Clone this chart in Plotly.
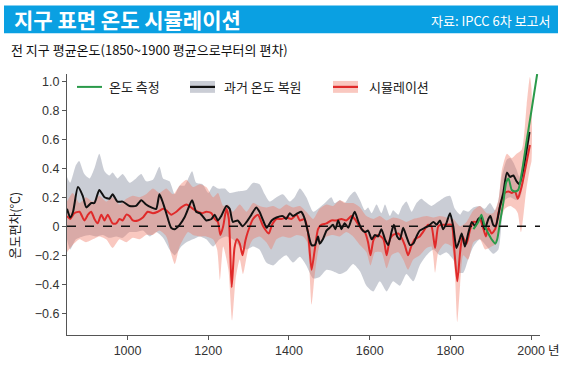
import plotly.graph_objects as go

# ---------------- data ----------------
recon_years = [850, 858, 865, 877, 889, 898, 910, 918, 930, 943, 955, 963, 975, 988, 1005, 1021, 1034, 1046, 1059, 1071,
               1079, 1088, 1096, 1108, 1117, 1129, 1141, 1150, 1160, 1170, 1179, 1186, 1195, 1208, 1216, 1224, 1232, 1245,
               1253, 1261, 1273, 1285, 1295, 1307, 1319, 1327, 1336, 1345, 1357, 1369, 1385, 1393, 1402, 1410, 1422, 1430,
               1438, 1447, 1456, 1464, 1472, 1476, 1484, 1493, 1501, 1509, 1515, 1522, 1530, 1538, 1547, 1555, 1563, 1572,
               1580, 1588, 1596, 1605, 1613, 1621, 1629, 1638, 1646, 1654, 1660, 1668, 1675, 1683, 1691, 1700, 1708, 1716,
               1724, 1737, 1745, 1758, 1766, 1774, 1782, 1790, 1799, 1807, 1815, 1822, 1828, 1836, 1844, 1853, 1861, 1869,
               1877, 1885, 1894, 1899, 1906, 1912, 1923, 1931, 1940, 1948, 1956, 1964, 1971, 1996]
recon_mean = [0.12, 0.06, 0.10, 0.27, 0.21, 0.13, 0.16, 0.16, 0.25, 0.20, 0.19, 0.22, 0.17, 0.17, 0.14, 0.14, 0.18, 0.15, 0.13, 0.12,
              0.22, 0.16, 0.09, -0.01, -0.02, 0.01, 0.06, 0.12, 0.18, 0.10, 0.09, 0.07, 0.04, 0.05, 0.08, 0.04, 0.07, 0.14,
              0.12, 0.03, 0.04, 0.00, 0.03, 0.08, 0.13, 0.10, 0.04, -0.01, 0.04, 0.06, 0.07, 0.05, 0.09, 0.07, 0.09, 0.10,
              0.06, -0.04, -0.13, -0.13, -0.07, -0.12, -0.09, -0.03, -0.01, 0.01, -0.02, 0.04, -0.02, 0.02, -0.01, 0.05, 0.10, 0.03,
              -0.02, -0.04, -0.03, -0.09, -0.06, -0.07, -0.02, -0.09, -0.13, -0.04, 0.01, -0.07, -0.09, -0.01, -0.07, -0.13, -0.12, -0.07,
              -0.03, -0.01, 0.00, 0.03, 0.01, 0.04, -0.02, 0.02, 0.09, 0.00, -0.15, -0.10, -0.05, -0.14, -0.05, 0.03, 0.00, 0.05,
              0.06, -0.02, 0.05, 0.07, 0.01, 0.00, 0.14, 0.23, 0.37, 0.34, 0.35, 0.31, 0.29, 0.65]

recon_up_years = [850, 858, 872, 880, 893, 906, 918, 930, 943, 955, 963, 975, 988, 1005, 1021, 1034, 1046, 1063, 1079, 1088,
                  1104, 1117, 1129, 1141, 1160, 1170, 1186, 1200, 1212, 1224, 1241, 1253, 1273, 1295, 1311, 1327, 1340, 1352,
                  1369, 1385, 1402, 1414, 1427, 1443, 1460, 1476, 1489, 1505, 1513, 1526, 1538, 1551, 1563, 1576, 1588, 1596,
                  1605, 1617, 1629, 1638, 1650, 1658, 1671, 1679, 1691, 1704, 1716, 1728, 1737, 1753, 1770, 1786, 1799, 1811,
                  1824, 1832, 1844, 1857, 1873, 1885, 1898, 1911, 1919, 1927, 1940, 1948, 1956, 1964, 1971, 1996]
recon_upper = [0.34, 0.30, 0.42, 0.45, 0.36, 0.33, 0.40, 0.50, 0.38, 0.35, 0.37, 0.33, 0.36, 0.30, 0.33, 0.36, 0.31, 0.32, 0.41, 0.33,
               0.31, 0.22, 0.28, 0.28, 0.38, 0.30, 0.29, 0.23, 0.28, 0.26, 0.26, 0.23, 0.24, 0.25, 0.30, 0.29, 0.22, 0.17,
               0.20, 0.22, 0.17, 0.20, 0.26, 0.20, 0.10, 0.13, 0.16, 0.20, 0.16, 0.18, 0.16, 0.21, 0.24, 0.18, 0.11, 0.13,
               0.09, 0.15, 0.09, 0.15, 0.07, 0.11, 0.08, 0.13, 0.17, 0.10, 0.16, 0.19, 0.17, 0.14, 0.17, 0.20, 0.21, 0.12,
               0.08, 0.11, 0.10, 0.13, 0.14, 0.12, 0.16, 0.11, 0.18, 0.34, 0.46, 0.47, 0.44, 0.39, 0.34, 0.70]

recon_lo_years = [850, 858, 872, 889, 906, 922, 939, 955, 972, 988, 1005, 1021, 1038, 1055, 1071, 1088, 1104, 1117, 1133, 1146,
                  1162, 1179, 1195, 1212, 1228, 1245, 1261, 1278, 1295, 1311, 1327, 1344, 1361, 1377, 1393, 1410, 1427, 1443,
                  1460, 1476, 1493, 1509, 1526, 1542, 1559, 1576, 1592, 1609, 1625, 1642, 1658, 1675, 1691, 1708, 1724, 1741,
                  1758, 1774, 1790, 1807, 1819, 1832, 1844, 1857, 1873, 1890, 1906, 1919, 1927, 1935, 1948, 1964, 1973, 1996]
recon_lower = [-0.09, -0.16, -0.09, -0.07, -0.06, -0.07, -0.06, -0.08, -0.07, -0.08, -0.04, -0.04, -0.03, -0.07, -0.04, -0.08, -0.16, -0.20, -0.14, -0.11,
               -0.09, -0.07, -0.09, -0.14, -0.09, -0.07, -0.09, -0.14, -0.16, -0.14, -0.16, -0.25, -0.27, -0.23, -0.20, -0.25, -0.21, -0.27,
               -0.36, -0.35, -0.30, -0.31, -0.33, -0.31, -0.26, -0.31, -0.41, -0.45, -0.38, -0.45, -0.38, -0.41, -0.33, -0.38, -0.27, -0.20,
               -0.16, -0.20, -0.18, -0.23, -0.32, -0.32, -0.23, -0.14, -0.09, -0.14, -0.19, -0.16, 0.03, 0.18, 0.20, 0.18, 0.20, 0.60]

sim_years = [850, 858, 868, 881, 893, 902, 910, 918, 926, 935, 943, 951, 963, 972, 980, 988, 997, 1005, 1013, 1026,
             1038, 1050, 1063, 1075, 1088, 1096, 1108, 1121, 1133, 1146, 1162, 1174, 1186, 1195, 1208, 1216, 1224, 1230,
             1237, 1245, 1251, 1258, 1265, 1271, 1278, 1285, 1292, 1298, 1311, 1323, 1336, 1350, 1358, 1369, 1381, 1394,
             1406, 1419, 1427, 1439, 1447, 1456, 1464, 1472, 1480, 1493, 1505, 1518, 1530, 1542, 1555, 1563, 1572, 1580,
             1588, 1596, 1602, 1610, 1621, 1634, 1642, 1650, 1658, 1671, 1679, 1687, 1695, 1704, 1712, 1724, 1732, 1745,
             1753, 1762, 1770, 1778, 1790, 1803, 1809, 1817, 1824, 1830, 1840, 1849, 1857, 1865, 1873, 1882, 1888, 1894,
             1902, 1911, 1919, 1927, 1935, 1944, 1952, 1960, 1967, 1977, 1988, 1997]
sim_mean = [0.07, 0.05, 0.09, 0.10, 0.04, 0.08, 0.10, 0.05, 0.02, 0.08, 0.04, 0.08, 0.02, 0.02, 0.05, 0.04, 0.08, 0.07, 0.04, 0.04,
            0.06, 0.10, 0.09, 0.10, 0.12, 0.11, 0.08, 0.10, 0.13, 0.15, 0.12, 0.10, 0.09, 0.10, 0.09, 0.05, 0.03, -0.06,
            0.00, 0.12, 0.05, -0.42, -0.15, -0.09, -0.12, -0.20, -0.10, -0.04, 0.05, 0.08, 0.00, -0.05, 0.01, 0.05, 0.05, 0.06,
            0.05, 0.08, 0.04, 0.05, -0.04, -0.30, -0.16, -0.02, 0.01, 0.02, 0.04, 0.04, 0.05, 0.04, 0.07, 0.05, 0.01, -0.02,
            -0.04, -0.11, -0.20, -0.09, -0.06, -0.09, -0.20, -0.09, -0.06, -0.05, -0.08, -0.13, -0.20, -0.13, -0.09, -0.07, -0.04, 0.01,
            0.00, -0.15, 0.00, 0.01, 0.01, 0.01, -0.14, -0.38, -0.18, -0.07, -0.12, -0.02, 0.03, 0.03, 0.05, -0.02, -0.07, -0.01,
            -0.05, -0.02, 0.09, 0.18, 0.23, 0.24, 0.23, 0.24, 0.19, 0.28, 0.43, 0.56]

sim_up_years = [850, 864, 881, 897, 914, 930, 947, 963, 980, 997, 1013, 1030, 1046, 1063, 1079, 1096, 1113, 1129, 1146, 1162,
                1179, 1195, 1212, 1224, 1237, 1249, 1261, 1278, 1295, 1311, 1327, 1344, 1361, 1377, 1393, 1410, 1427, 1443,
                1460, 1476, 1493, 1509, 1526, 1542, 1559, 1576, 1592, 1609, 1625, 1642, 1658, 1675, 1691, 1708, 1724, 1741,
                1758, 1774, 1790, 1807, 1824, 1840, 1857, 1873, 1890, 1906, 1919, 1927, 1940, 1952, 1964, 1977, 1989, 1997, 2001]
sim_upper = [0.17, 0.23, 0.16, 0.20, 0.17, 0.21, 0.17, 0.20, 0.15, 0.19, 0.21, 0.20, 0.22, 0.26, 0.23, 0.26, 0.22, 0.28, 0.32, 0.27,
             0.29, 0.27, 0.20, 0.23, 0.14, 0.15, 0.10, 0.15, 0.10, 0.16, 0.14, 0.13, 0.14, 0.12, 0.15, 0.13, 0.14, 0.10,
             0.05, 0.12, 0.15, 0.14, 0.18, 0.16, 0.16, 0.13, 0.07, 0.05, 0.07, 0.04, 0.06, 0.05, 0.03, 0.05, 0.06, 0.07,
             0.06, 0.07, 0.06, 0.05, 0.00, 0.03, 0.11, 0.14, 0.09, 0.09, 0.18, 0.38, 0.50, 0.47, 0.50, 0.53, 0.84, 1.03, 0.95]

sim_lo_years = [850, 864, 881, 897, 914, 930, 947, 963, 980, 997, 1013, 1030, 1046, 1063, 1079, 1096, 1108, 1117, 1129, 1150,
                1162, 1179, 1195, 1212, 1222, 1229, 1237, 1250, 1259, 1268, 1278, 1286, 1299, 1311, 1327, 1344, 1356, 1369,
                1385, 1402, 1419, 1435, 1445, 1456, 1464, 1476, 1493, 1509, 1526, 1542, 1559, 1576, 1592, 1602, 1613, 1629,
                1642, 1654, 1671, 1683, 1695, 1708, 1724, 1741, 1753, 1762, 1770, 1786, 1803, 1811, 1817, 1824, 1832, 1844,
                1857, 1873, 1886, 1902, 1912, 1923, 1935, 1948, 1960, 1967, 1975, 1988, 1997, 2001]
sim_lower = [-0.18, -0.13, -0.09, -0.11, -0.09, -0.07, -0.09, -0.15, -0.09, -0.11, -0.08, -0.09, -0.06, -0.06, -0.03, -0.07, -0.19, -0.26, -0.14, -0.04,
             -0.06, -0.07, -0.07, -0.09, -0.16, -0.37, -0.14, -0.30, -0.65, -0.36, -0.23, -0.33, -0.16, -0.09, -0.07, -0.11, -0.16, -0.09,
             -0.07, -0.08, -0.06, -0.07, -0.11, -0.54, -0.33, -0.13, -0.07, -0.06, -0.07, -0.04, -0.07, -0.13, -0.18, -0.27, -0.18, -0.18,
             -0.29, -0.20, -0.18, -0.23, -0.30, -0.23, -0.20, -0.15, -0.14, -0.32, -0.18, -0.12, -0.14, -0.32, -0.66, -0.41, -0.20, -0.23,
             -0.11, -0.09, -0.16, -0.14, -0.12, 0.03, 0.12, 0.14, 0.12, 0.09, -0.04, 0.25, 0.40, 0.45]

obs_years = [1857, 1869, 1877, 1885, 1894, 1902, 1911, 1916, 1923, 1931, 1938, 1944, 1952, 1960, 1968, 1977, 1989, 2001, 2015]
obs_mean = [-0.02, 0.03, 0.08, 0.00, -0.05, -0.09, -0.12, -0.09, 0.03, 0.16, 0.30, 0.33, 0.25, 0.24, 0.25, 0.37, 0.59, 0.80, 1.05]

x_ticks = [1000, 1200, 1400, 1600, 1800, 2000]
y_ticks = [1.0, 0.8, 0.6, 0.4, 0.2, 0, -0.2, -0.4, -0.6]
y_tick_text = ["1.0", "0.8", "0.6", "0.4", "0.2", "0", "\u22120.2", "\u22120.4", "\u22120.6"]

# ---------------- styles ----------------
W, H = 564, 370
L, R, T, B = 67, 540, 74, 337
FONT = "Liberation Sans, Arial, Noto Sans CJK KR, sans-serif"
KFONT = "Noto Sans CJK KR, sans-serif"
GRAY_FILL = "rgba(150,156,172,0.5)"
RED_FILL = "rgba(240,118,98,0.40)"
RED = "#e02a2a"
GREEN = "#2a9a4a"
BLACK = "#111111"


def px(x):
    return (x - L) / (R - L)


def py(y):
    return (B - y) / (B - T)


fig = go.Figure()

# bands
fig.add_trace(go.Scatter(x=recon_up_years + recon_lo_years[::-1], y=recon_upper + recon_lower[::-1],
                         fill="toself", fillcolor=GRAY_FILL, line=dict(width=0, shape="spline", smoothing=0.6),
                         mode="lines", hoverinfo="skip", showlegend=False))
fig.add_trace(go.Scatter(x=sim_up_years + sim_lo_years[::-1], y=sim_upper + sim_lower[::-1],
                         fill="toself", fillcolor=RED_FILL, line=dict(width=0, shape="spline", smoothing=0.6),
                         mode="lines", hoverinfo="skip", showlegend=False))

# lines
fig.add_trace(go.Scatter(x=sim_years, y=sim_mean, mode="lines",
                         line=dict(color=RED, width=2, shape="spline", smoothing=0.6), showlegend=False))
fig.add_trace(go.Scatter(x=recon_years, y=recon_mean, mode="lines",
                         line=dict(color=BLACK, width=2, shape="spline", smoothing=0.6), showlegend=False))
fig.add_trace(go.Scatter(x=obs_years, y=obs_mean, mode="lines",
                         line=dict(color=GREEN, width=2, shape="spline", smoothing=0.6), showlegend=False))

shapes = []
# zero dashed line
shapes.append(dict(type="line", xref="paper", yref="y", x0=0, x1=1, y0=0, y1=0,
                   line=dict(color="#111111", width=1.6, dash="dash")))
# header bar
shapes.append(dict(type="rect", xref="paper", yref="paper", x0=px(4), x1=px(558), y0=py(33), y1=py(5),
                   fillcolor="#0aa0e2", line=dict(width=0), layer="below"))
# legend
ly = py(87)
shapes.append(dict(type="line", xref="paper", yref="paper", x0=px(77), x1=px(102), y0=ly, y1=ly,
                   line=dict(color=GREEN, width=2)))
shapes.append(dict(type="rect", xref="paper", yref="paper", x0=px(190), x1=px(215), y0=py(93), y1=py(81),
                   fillcolor=GRAY_FILL, line=dict(width=0)))
shapes.append(dict(type="line", xref="paper", yref="paper", x0=px(190), x1=px(215), y0=ly, y1=ly,
                   line=dict(color=BLACK, width=2.2)))
shapes.append(dict(type="rect", xref="paper", yref="paper", x0=px(333), x1=px(358), y0=py(93), y1=py(81),
                   fillcolor=RED_FILL, line=dict(width=0)))
shapes.append(dict(type="line", xref="paper", yref="paper", x0=px(333), x1=px(358), y0=ly, y1=ly,
                   line=dict(color=RED, width=2.2)))

annotations = [
    dict(text="<b>지구 표면 온도 시뮬레이션</b>", x=px(12), y=py(19), xref="paper", yref="paper",
         xanchor="left", yanchor="middle", showarrow=False, font=dict(family=KFONT, size=21, color="white")),
    dict(text="자료: IPCC 6차 보고서", x=px(553), y=py(20), xref="paper", yref="paper",
         xanchor="right", yanchor="middle", showarrow=False, font=dict(family=KFONT, size=13, color="white")),
    dict(text="전 지구 평균온도(1850~1900 평균으로부터의 편차)", x=px(9), y=py(49), xref="paper", yref="paper",
         xanchor="left", yanchor="middle", showarrow=False, font=dict(family=KFONT, size=13, color="#111111")),
    dict(text="온도 측정", x=px(107), y=ly, xref="paper", yref="paper", xanchor="left", yanchor="middle",
         showarrow=False, font=dict(family=KFONT, size=13, color="#222222")),
    dict(text="과거 온도 복원", x=px(222), y=ly, xref="paper", yref="paper", xanchor="left", yanchor="middle",
         showarrow=False, font=dict(family=KFONT, size=13, color="#222222")),
    dict(text="시뮬레이션", x=px(367), y=ly, xref="paper", yref="paper", xanchor="left", yanchor="middle",
         showarrow=False, font=dict(family=KFONT, size=13, color="#222222")),
    dict(text="온도편차(℃)", x=px(15), y=py(227), xref="paper", yref="paper", xanchor="center", yanchor="middle",
         textangle=-90, showarrow=False, font=dict(family=KFONT, size=12.5, color="#222222")),
    dict(text="년", x=px(546), y=py(352), xref="paper", yref="paper", xanchor="left", yanchor="middle",
         showarrow=False, font=dict(family=KFONT, size=12.5, color="#222222")),
]

fig.update_layout(
    width=W, height=H,
    margin=dict(l=L, r=W - R, t=T, b=H - B, pad=0),
    paper_bgcolor="white", plot_bgcolor="white",
    font=dict(family=FONT, size=12, color="#333333"),
    shapes=shapes, annotations=annotations,
    showlegend=False,
    xaxis=dict(range=[850, 2022], tickvals=x_ticks, ticks="outside", ticklen=4, tickcolor="#555555",
               showline=True, linecolor="#555555", linewidth=1.3, showgrid=False, zeroline=False,
               tickfont=dict(size=12.5, color="#333333")),
    yaxis=dict(range=[-0.75, 1.05], tickvals=y_ticks, ticktext=y_tick_text, ticks="outside", ticklen=4,
               tickcolor="#555555", showline=True, linecolor="#555555", linewidth=1.3, showgrid=False,
               zeroline=False, tickfont=dict(size=12.5, color="#333333")),
)

fig.write_html("out.html", config={"displayModeBar": False},
               post_script="document.body.style.margin='0';document.body.style.padding='0';")
